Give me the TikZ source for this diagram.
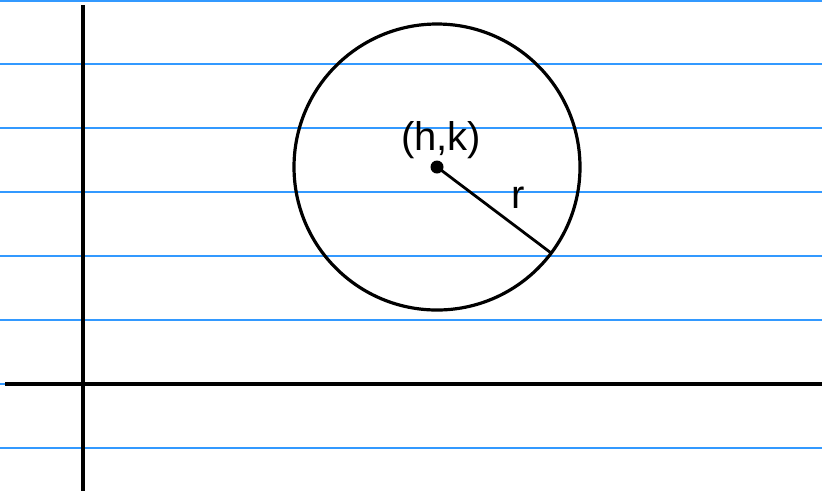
\documentclass[tikz,border=0pt]{standalone}
\usepackage{fontspec}
\setmainfont{Liberation Sans}
\usetikzlibrary{positioning,calc}

\definecolor{ruleblue}{RGB}{51,153,255}

\begin{document}
\begin{tikzpicture}[
    x=0.5pt, y=-0.5pt,
    ruling/.style={draw=ruleblue, line width=0.8pt},
    axis/.style={draw=black, line width=1.8pt},
    hand/.style={font=\fontsize{20}{20}\selectfont, inner sep=0pt}
]
\useasboundingbox (0,0) rectangle (822,495);

% ruled paper
\foreach \y in {0.8, 64, 128, 192, 256, 320, 384, 448}
  \draw[ruling] (0,\y) -- (822,\y);

% axes
\draw[axis] (5,384) -- (822,384);
\draw[axis] (83,5) -- (83,491);

% circle
\coordinate (c) at (437,167);
\draw[line width=1.6pt] (c) circle[radius=143];
\coordinate (p) at ($(c)+(37:143)$);
\node[circle, fill=black, inner sep=0pt, minimum size=6.5pt] (ctr) at (c) {};
\draw[line width=1.4pt] (ctr.center) -- (p);

\node[hand] (hk) at (441,140) {(h,k)};
\node[hand] (r) at (518,198) {r};
\end{tikzpicture}
\end{document}
